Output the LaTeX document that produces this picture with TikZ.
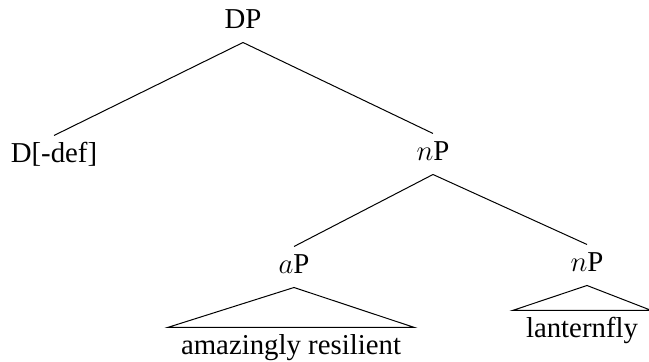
\documentclass[tikz,border=0pt]{standalone}
\usepackage{fontspec}
\setmainfont{Liberation Serif}
\begin{document}
\begin{tikzpicture}[%
                x=0.5pt, y=-0.5pt,
                line width=0.5pt,
                mylabel/.style={anchor=base, font=\fontsize{14.4}{17}\selectfont,
                    text height=10pt, text depth=3pt, inner xsep=1pt, inner ysep=3.5pt},
                myleaf/.style={mylabel, inner xsep=6.5pt}
            ]
            \useasboundingbox (0,0) rectangle (649,362);
            \node [mylabel] (dp) at (243,29) {DP};
            \node [mylabel] (ddef) at (54,163) {D[-def]};
            \node [mylabel] (np) at (433,161) {$n$P};
            \node [mylabel] (ap) at (294,274) {$a$P};
            \node [mylabel] (nplow) at (587,272) {$n$P};
            \node [myleaf] (amres) at (291,355) {amazingly resilient};
            \node [myleaf] (lfly) at (582,338) {lanternfly};
            \foreach \mytop/\mybot in {dp/ddef, dp/np, np/ap, np/nplow}
                \draw (\mytop.south) -- (\mybot.north);
            \foreach \mytop/\mybot in {ap/amres, nplow/lfly}
                \draw (\mytop.south) -- (\mybot.north west) -- (\mybot.north east) -- cycle;
        \end{tikzpicture}
\end{document}
